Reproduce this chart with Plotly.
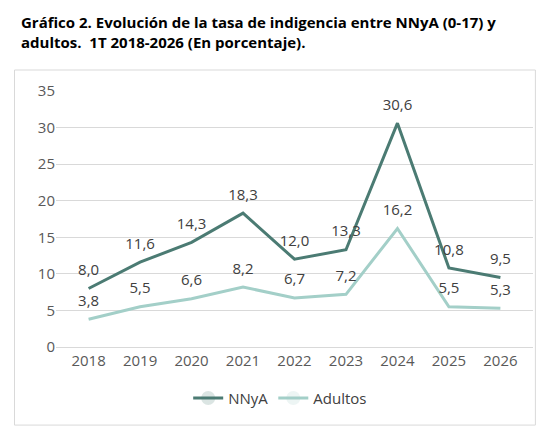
import plotly.graph_objects as go

years = ["2018","2019","2020","2021","2022","2023","2024","2025","2026"]
nnya = [8.0, 11.6, 14.3, 18.3, 12.0, 13.3, 30.6, 10.8, 9.5]
adultos = [3.8, 5.5, 6.6, 8.2, 6.7, 7.2, 16.2, 5.5, 5.3]

def fmt(v):
    return f"{v:.1f}".replace(".", ",")

fig = go.Figure()
fig.add_trace(go.Scatter(x=years, y=nnya, name="NNyA", mode="lines+markers+text",
    line=dict(color="#4b7b73", width=3), marker=dict(size=14, opacity=0),
    text=[fmt(v) for v in nnya],
    textposition="top center", textfont=dict(size=15, color="#404040")))
fig.add_trace(go.Scatter(x=years, y=adultos, name="Adultos", mode="lines+markers+text",
    line=dict(color="#a3cfc8", width=3), marker=dict(size=14, opacity=0),
    text=[fmt(v) for v in adultos],
    textposition="top center", textfont=dict(size=15, color="#404040")))

fig.update_layout(
    width=554, height=436, paper_bgcolor="white", plot_bgcolor="white",
    margin=dict(l=47.5, r=28.5, t=83, b=97),
    font=dict(family="Open Sans", size=14, color="#595959"),
    xaxis=dict(type="category", showgrid=False, showline=True, linecolor="#d9d9d9",
               ticks="", tickfont=dict(size=15)),
    yaxis=dict(range=[0, 35], dtick=5, showgrid=True, gridcolor="#d9d9d9",
               zeroline=False, ticks="", tickfont=dict(size=15)),
    legend=dict(orientation="h", x=0.47, xanchor="center", y=-0.2, yanchor="middle",
                font=dict(size=15, color="#404040")),
    shapes=[dict(type="rect", xref="paper", yref="paper", x0=-0.087, x1=1.005,
                 y0=-0.305, y1=1.082, line=dict(color="#d9d9d9", width=1))],
    annotations=[dict(xref="paper", yref="paper", x=-0.078, y=1.316, xanchor="left",
        yanchor="top", align="left", showarrow=False,
        text="<b>Gráfico 2. Evolución de la tasa de indigencia entre NNyA (0-17) y<br>adultos.  1T 2018-2026 (En porcentaje).</b>",
        font=dict(size=15, color="#000000", family="Open Sans"))],
)
fig.write_html("out.html")
